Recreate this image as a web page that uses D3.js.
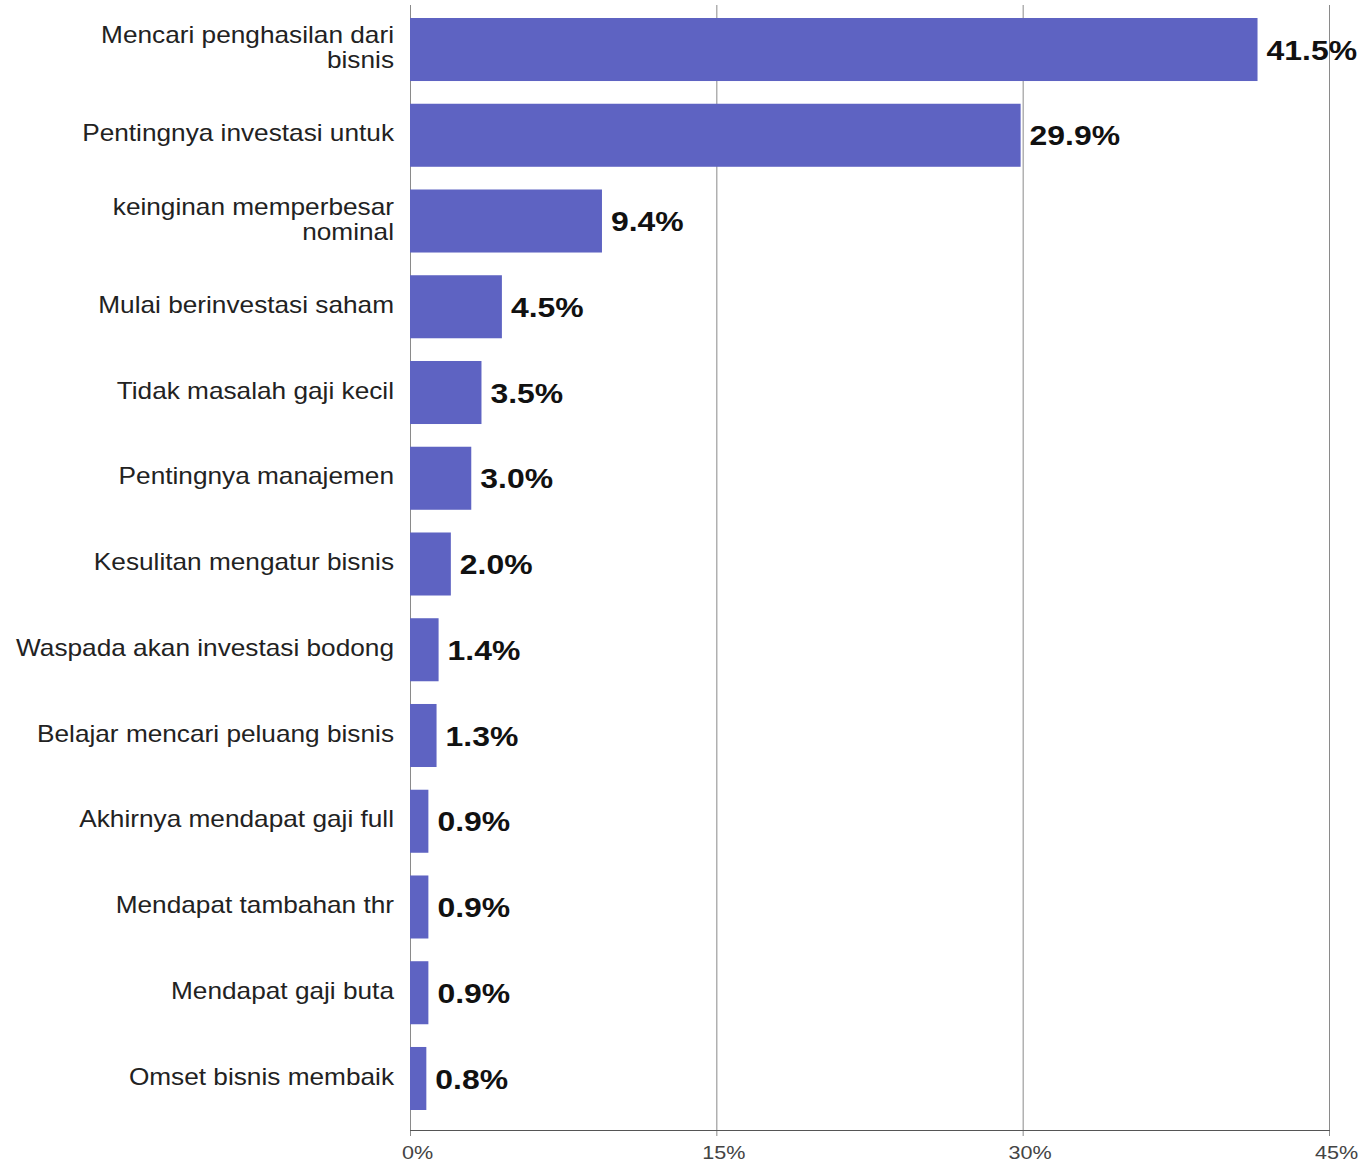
<!DOCTYPE html>
<html>
<head>
<meta charset="utf-8">
<script src="https://cdn.jsdelivr.net/npm/d3@7"></script>
<style>
  html, body { margin: 0; padding: 0; background: #fff; }
  svg { display: block; }
</style>
</head>
<body>
<svg id="chart" width="1365" height="1164"></svg>
<script>
// Categories (each entry is a list of label lines)
const categories = [
  ["Mencari penghasilan dari", "bisnis"],
  ["Pentingnya investasi untuk"],
  ["keinginan memperbesar", "nominal"],
  ["Mulai berinvestasi saham"],
  ["Tidak masalah gaji kecil"],
  ["Pentingnya manajemen"],
  ["Kesulitan mengatur bisnis"],
  ["Waspada akan investasi bodong"],
  ["Belajar mencari peluang bisnis"],
  ["Akhirnya mendapat gaji full"],
  ["Mendapat tambahan thr"],
  ["Mendapat gaji buta"],
  ["Omset bisnis membaik"]
];
// Share of respondents (%)
const values = [41.5, 29.9, 9.4, 4.5, 3.5, 3.0, 2.0, 1.4, 1.3, 0.9, 0.9, 0.9, 0.8];
// Axis ticks (%)
const tickValues = [0, 15, 30, 45];

const svg = d3.select("#chart");
const plotLeft = 410, plotRight = 1329, plotTop = 5, baseline = 1130;
const font = "'Liberation Sans', Arial, sans-serif";
const stretch = 1.14; // wide letterforms

const x = d3.scaleLinear().domain([0, 45]).range([plotLeft, plotRight]);
const y = d3.scaleBand()
  .domain(d3.range(categories.length))
  .range([18, 1110])
  .paddingInner(0.265)
  .paddingOuter(0);

// Vertical grid lines
svg.append("g")
  .selectAll("line")
  .data(tickValues)
  .join("line")
  .attr("x1", d => x(d) + 0.5)
  .attr("x2", d => x(d) + 0.5)
  .attr("y1", plotTop)
  .attr("y2", baseline + 6)
  .attr("stroke", "#8a8a8a")
  .attr("stroke-width", 1);

// Baseline
svg.append("line")
  .attr("x1", x(0))
  .attr("x2", x(45) + 1)
  .attr("y1", baseline + 0.5)
  .attr("y2", baseline + 0.5)
  .attr("stroke", "#555")
  .attr("stroke-width", 1);

// Bottom axis labels
const axis = d3.axisBottom(x)
  .tickValues(tickValues)
  .tickFormat(d => d + "%")
  .tickSize(0)
  .tickPadding(16);
const ag = svg.append("g").attr("transform", `translate(7,${baseline})`).call(axis);
ag.select(".domain").remove();
ag.selectAll("text")
  .attr("font-family", font)
  .attr("font-size", 18)
  .attr("fill", "#444")
  .attr("transform", "scale(1.2,1)");

// Bars
svg.append("g")
  .selectAll("rect")
  .data(values)
  .join("rect")
  .attr("x", x(0))
  .attr("y", (d, i) => y(i))
  .attr("width", d => x(d) - x(0))
  .attr("height", y.bandwidth())
  .attr("fill", "#5e63c2");

// Value labels
svg.append("g")
  .selectAll("text")
  .data(values)
  .join("text")
  .attr("transform", (d, i) => `translate(${x(d) + 9},${y(i) + y.bandwidth() / 2}) scale(${stretch},1)`)
  .attr("dy", "0.36em")
  .attr("font-family", font)
  .attr("font-weight", "bold")
  .attr("font-size", 28)
  .attr("fill", "#111")
  .text(d => d.toFixed(1) + "%");

// Category labels
const lineH = 25;
const cat = svg.append("g")
  .selectAll("text")
  .data(categories)
  .join("text")
  .attr("text-anchor", "end")
  .attr("font-family", font)
  .attr("font-size", 23)
  .attr("fill", "#222")
  .attr("transform", (d, i) => `translate(394,${y(i) + y.bandwidth() / 2 - 2}) scale(${stretch},1)`);
cat.selectAll("tspan")
  .data(d => d.map((t, j) => ({ t, j, n: d.length })))
  .join("tspan")
  .attr("x", 0)
  .attr("y", d => (d.j - (d.n - 1) / 2) * lineH)
  .attr("dy", "0.35em")
  .text(d => d.t);
</script>
</body>
</html>
